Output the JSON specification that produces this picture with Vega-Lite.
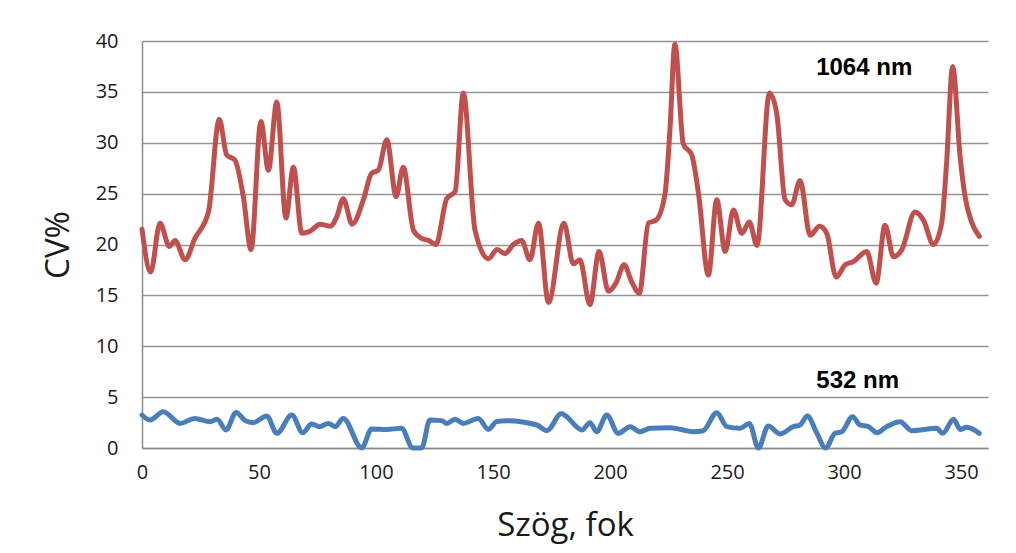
{
  "$schema": "https://vega.github.io/schema/vega-lite/v6.json",
  "autosize": {"type": "none"},
  "width": 846,
  "height": 407,
  "padding": {"left": 142, "top": 41, "right": 28, "bottom": 105},
  "background": "white",
  "config": {
    "view": {"stroke": null},
    "font": "Open Sans"
  },
  "datasets": {
    "cv": [
      {"szog": 0, "cv": 21.5, "hullam": "1064 nm"},
      {"szog": 3.7, "cv": 17.3, "hullam": "1064 nm"},
      {"szog": 7.7, "cv": 22.1, "hullam": "1064 nm"},
      {"szog": 11.7, "cv": 19.8, "hullam": "1064 nm"},
      {"szog": 14.1, "cv": 20.4, "hullam": "1064 nm"},
      {"szog": 18.4, "cv": 18.5, "hullam": "1064 nm"},
      {"szog": 22.6, "cv": 20.6, "hullam": "1064 nm"},
      {"szog": 28.4, "cv": 23.2, "hullam": "1064 nm"},
      {"szog": 33.0, "cv": 32.3, "hullam": "1064 nm"},
      {"szog": 36.2, "cv": 28.8, "hullam": "1064 nm"},
      {"szog": 39.7, "cv": 28.3, "hullam": "1064 nm"},
      {"szog": 43.3, "cv": 24.7, "hullam": "1064 nm"},
      {"szog": 46.6, "cv": 19.5, "hullam": "1064 nm"},
      {"szog": 50.8, "cv": 32.1, "hullam": "1064 nm"},
      {"szog": 54.0, "cv": 27.3, "hullam": "1064 nm"},
      {"szog": 57.6, "cv": 34.0, "hullam": "1064 nm"},
      {"szog": 61.5, "cv": 22.6, "hullam": "1064 nm"},
      {"szog": 64.7, "cv": 27.6, "hullam": "1064 nm"},
      {"szog": 68.3, "cv": 21.1, "hullam": "1064 nm"},
      {"szog": 71.8, "cv": 21.3, "hullam": "1064 nm"},
      {"szog": 76.1, "cv": 22.0, "hullam": "1064 nm"},
      {"szog": 80.4, "cv": 21.8, "hullam": "1064 nm"},
      {"szog": 83.2, "cv": 22.7, "hullam": "1064 nm"},
      {"szog": 86.0, "cv": 24.5, "hullam": "1064 nm"},
      {"szog": 89.8, "cv": 22.0, "hullam": "1064 nm"},
      {"szog": 94.6, "cv": 24.4, "hullam": "1064 nm"},
      {"szog": 98.1, "cv": 27.0, "hullam": "1064 nm"},
      {"szog": 101.0, "cv": 27.3, "hullam": "1064 nm"},
      {"szog": 104.6, "cv": 30.3, "hullam": "1064 nm"},
      {"szog": 108.6, "cv": 24.7, "hullam": "1064 nm"},
      {"szog": 111.6, "cv": 27.6, "hullam": "1064 nm"},
      {"szog": 116.0, "cv": 21.4, "hullam": "1064 nm"},
      {"szog": 119.5, "cv": 20.6, "hullam": "1064 nm"},
      {"szog": 122.4, "cv": 20.4, "hullam": "1064 nm"},
      {"szog": 125.6, "cv": 20.0, "hullam": "1064 nm"},
      {"szog": 130.2, "cv": 24.5, "hullam": "1064 nm"},
      {"szog": 133.8, "cv": 25.2, "hullam": "1064 nm"},
      {"szog": 137.3, "cv": 34.9, "hullam": "1064 nm"},
      {"szog": 142.3, "cv": 21.4, "hullam": "1064 nm"},
      {"szog": 148.0, "cv": 18.6, "hullam": "1064 nm"},
      {"szog": 151.8, "cv": 19.5, "hullam": "1064 nm"},
      {"szog": 155.1, "cv": 19.1, "hullam": "1064 nm"},
      {"szog": 158.7, "cv": 20.0, "hullam": "1064 nm"},
      {"szog": 162.2, "cv": 20.4, "hullam": "1064 nm"},
      {"szog": 165.8, "cv": 18.5, "hullam": "1064 nm"},
      {"szog": 169.4, "cv": 22.1, "hullam": "1064 nm"},
      {"szog": 173.7, "cv": 14.3, "hullam": "1064 nm"},
      {"szog": 180.3, "cv": 22.1, "hullam": "1064 nm"},
      {"szog": 184.3, "cv": 18.1, "hullam": "1064 nm"},
      {"szog": 187.1, "cv": 18.5, "hullam": "1064 nm"},
      {"szog": 191.4, "cv": 14.1, "hullam": "1064 nm"},
      {"szog": 195.3, "cv": 19.3, "hullam": "1064 nm"},
      {"szog": 199.3, "cv": 15.4, "hullam": "1064 nm"},
      {"szog": 202.5, "cv": 16.2, "hullam": "1064 nm"},
      {"szog": 206.0, "cv": 18.0, "hullam": "1064 nm"},
      {"szog": 209.3, "cv": 16.3, "hullam": "1064 nm"},
      {"szog": 212.5, "cv": 15.2, "hullam": "1064 nm"},
      {"szog": 216.4, "cv": 22.1, "hullam": "1064 nm"},
      {"szog": 219.7, "cv": 22.4, "hullam": "1064 nm"},
      {"szog": 223.5, "cv": 25.0, "hullam": "1064 nm"},
      {"szog": 225.6, "cv": 31.3, "hullam": "1064 nm"},
      {"szog": 227.7, "cv": 39.7, "hullam": "1064 nm"},
      {"szog": 231.3, "cv": 29.9, "hullam": "1064 nm"},
      {"szog": 234.9, "cv": 28.8, "hullam": "1064 nm"},
      {"szog": 237.8, "cv": 25.0, "hullam": "1064 nm"},
      {"szog": 242.0, "cv": 17.0, "hullam": "1064 nm"},
      {"szog": 245.6, "cv": 24.4, "hullam": "1064 nm"},
      {"szog": 249.2, "cv": 19.3, "hullam": "1064 nm"},
      {"szog": 252.7, "cv": 23.4, "hullam": "1064 nm"},
      {"szog": 256.3, "cv": 21.1, "hullam": "1064 nm"},
      {"szog": 259.5, "cv": 22.2, "hullam": "1064 nm"},
      {"szog": 262.8, "cv": 19.9, "hullam": "1064 nm"},
      {"szog": 268.1, "cv": 34.9, "hullam": "1064 nm"},
      {"szog": 271.2, "cv": 32.9, "hullam": "1064 nm"},
      {"szog": 274.8, "cv": 24.4, "hullam": "1064 nm"},
      {"szog": 277.6, "cv": 23.9, "hullam": "1064 nm"},
      {"szog": 281.2, "cv": 26.3, "hullam": "1064 nm"},
      {"szog": 285.5, "cv": 20.9, "hullam": "1064 nm"},
      {"szog": 289.5, "cv": 21.8, "hullam": "1064 nm"},
      {"szog": 292.6, "cv": 21.1, "hullam": "1064 nm"},
      {"szog": 296.6, "cv": 16.8, "hullam": "1064 nm"},
      {"szog": 300.5, "cv": 18.0, "hullam": "1064 nm"},
      {"szog": 303.9, "cv": 18.3, "hullam": "1064 nm"},
      {"szog": 309.7, "cv": 19.3, "hullam": "1064 nm"},
      {"szog": 313.7, "cv": 16.2, "hullam": "1064 nm"},
      {"szog": 317.5, "cv": 21.9, "hullam": "1064 nm"},
      {"szog": 321.1, "cv": 18.8, "hullam": "1064 nm"},
      {"szog": 324.7, "cv": 19.5, "hullam": "1064 nm"},
      {"szog": 330.3, "cv": 23.2, "hullam": "1064 nm"},
      {"szog": 333.9, "cv": 22.4, "hullam": "1064 nm"},
      {"szog": 338.2, "cv": 20.0, "hullam": "1064 nm"},
      {"szog": 341.7, "cv": 22.1, "hullam": "1064 nm"},
      {"szog": 343.8, "cv": 28.0, "hullam": "1064 nm"},
      {"szog": 346.4, "cv": 37.5, "hullam": "1064 nm"},
      {"szog": 349.6, "cv": 28.6, "hullam": "1064 nm"},
      {"szog": 351.7, "cv": 24.7, "hullam": "1064 nm"},
      {"szog": 354.5, "cv": 22.2, "hullam": "1064 nm"},
      {"szog": 357.8, "cv": 20.8, "hullam": "1064 nm"},

      {"szog": 0, "cv": 3.24, "hullam": "532 nm"},
      {"szog": 3.4, "cv": 2.75, "hullam": "532 nm"},
      {"szog": 9.1, "cv": 3.57, "hullam": "532 nm"},
      {"szog": 16.3, "cv": 2.42, "hullam": "532 nm"},
      {"szog": 22.6, "cv": 2.91, "hullam": "532 nm"},
      {"szog": 29.1, "cv": 2.59, "hullam": "532 nm"},
      {"szog": 32.1, "cv": 2.82, "hullam": "532 nm"},
      {"szog": 35.9, "cv": 1.77, "hullam": "532 nm"},
      {"szog": 40.2, "cv": 3.5, "hullam": "532 nm"},
      {"szog": 44.1, "cv": 2.69, "hullam": "532 nm"},
      {"szog": 47.5, "cv": 2.49, "hullam": "532 nm"},
      {"szog": 53.3, "cv": 3.15, "hullam": "532 nm"},
      {"szog": 57.6, "cv": 1.44, "hullam": "532 nm"},
      {"szog": 64.0, "cv": 3.24, "hullam": "532 nm"},
      {"szog": 68.7, "cv": 1.5, "hullam": "532 nm"},
      {"szog": 72.5, "cv": 2.36, "hullam": "532 nm"},
      {"szog": 75.8, "cv": 2.1, "hullam": "532 nm"},
      {"szog": 79.7, "cv": 2.42, "hullam": "532 nm"},
      {"szog": 82.5, "cv": 2.1, "hullam": "532 nm"},
      {"szog": 86.0, "cv": 2.91, "hullam": "532 nm"},
      {"szog": 93.9, "cv": 0, "hullam": "532 nm"},
      {"szog": 98.1, "cv": 1.87, "hullam": "532 nm"},
      {"szog": 104.6, "cv": 1.83, "hullam": "532 nm"},
      {"szog": 110.9, "cv": 1.93, "hullam": "532 nm"},
      {"szog": 115.7, "cv": 0, "hullam": "532 nm"},
      {"szog": 119.5, "cv": 0, "hullam": "532 nm"},
      {"szog": 123.0, "cv": 2.75, "hullam": "532 nm"},
      {"szog": 128.0, "cv": 2.69, "hullam": "532 nm"},
      {"szog": 130.2, "cv": 2.42, "hullam": "532 nm"},
      {"szog": 133.8, "cv": 2.82, "hullam": "532 nm"},
      {"szog": 137.3, "cv": 2.42, "hullam": "532 nm"},
      {"szog": 143.7, "cv": 2.91, "hullam": "532 nm"},
      {"szog": 148.0, "cv": 1.83, "hullam": "532 nm"},
      {"szog": 151.5, "cv": 2.59, "hullam": "532 nm"},
      {"szog": 155.9, "cv": 2.69, "hullam": "532 nm"},
      {"szog": 168.7, "cv": 2.26, "hullam": "532 nm"},
      {"szog": 173.0, "cv": 1.7, "hullam": "532 nm"},
      {"szog": 179.2, "cv": 3.38, "hullam": "532 nm"},
      {"szog": 181.0, "cv": 3.15, "hullam": "532 nm"},
      {"szog": 188.0, "cv": 1.77, "hullam": "532 nm"},
      {"szog": 191.4, "cv": 2.49, "hullam": "532 nm"},
      {"szog": 194.3, "cv": 1.6, "hullam": "532 nm"},
      {"szog": 198.6, "cv": 3.24, "hullam": "532 nm"},
      {"szog": 203.5, "cv": 1.44, "hullam": "532 nm"},
      {"szog": 208.6, "cv": 2.1, "hullam": "532 nm"},
      {"szog": 212.8, "cv": 1.6, "hullam": "532 nm"},
      {"szog": 217.1, "cv": 1.93, "hullam": "532 nm"},
      {"szog": 225.6, "cv": 2.0, "hullam": "532 nm"},
      {"szog": 235.6, "cv": 1.6, "hullam": "532 nm"},
      {"szog": 239.8, "cv": 1.7, "hullam": "532 nm"},
      {"szog": 245.6, "cv": 3.47, "hullam": "532 nm"},
      {"szog": 249.9, "cv": 2.1, "hullam": "532 nm"},
      {"szog": 255.5, "cv": 1.93, "hullam": "532 nm"},
      {"szog": 259.5, "cv": 2.42, "hullam": "532 nm"},
      {"szog": 263.4, "cv": 0, "hullam": "532 nm"},
      {"szog": 267.6, "cv": 2.16, "hullam": "532 nm"},
      {"szog": 272.7, "cv": 1.38, "hullam": "532 nm"},
      {"szog": 278.3, "cv": 2.1, "hullam": "532 nm"},
      {"szog": 281.2, "cv": 2.26, "hullam": "532 nm"},
      {"szog": 284.3, "cv": 3.15, "hullam": "532 nm"},
      {"szog": 288.4, "cv": 1.44, "hullam": "532 nm"},
      {"szog": 292.1, "cv": 0, "hullam": "532 nm"},
      {"szog": 296.1, "cv": 1.44, "hullam": "532 nm"},
      {"szog": 299.0, "cv": 1.6, "hullam": "532 nm"},
      {"szog": 303.6, "cv": 3.08, "hullam": "532 nm"},
      {"szog": 306.8, "cv": 2.26, "hullam": "532 nm"},
      {"szog": 310.4, "cv": 2.1, "hullam": "532 nm"},
      {"szog": 314.0, "cv": 1.5, "hullam": "532 nm"},
      {"szog": 318.2, "cv": 2.1, "hullam": "532 nm"},
      {"szog": 323.9, "cv": 2.59, "hullam": "532 nm"},
      {"szog": 328.9, "cv": 1.7, "hullam": "532 nm"},
      {"szog": 339.6, "cv": 1.93, "hullam": "532 nm"},
      {"szog": 342.1, "cv": 1.44, "hullam": "532 nm"},
      {"szog": 346.8, "cv": 2.82, "hullam": "532 nm"},
      {"szog": 349.6, "cv": 1.83, "hullam": "532 nm"},
      {"szog": 352.4, "cv": 2.03, "hullam": "532 nm"},
      {"szog": 357.8, "cv": 1.44, "hullam": "532 nm"}
    ],
    "cimkek": [
      {"szog": 308.6, "cv": 36.7, "felirat": "1064 nm"},
      {"szog": 305.8, "cv": 5.87, "felirat": "532 nm"}
    ]
  },
  "layer": [
    {
      "data": {"name": "cv"},
      "mark": {"type": "line", "interpolate": "monotone", "strokeWidth": 5, "strokeCap": "round", "strokeJoin": "round", "clip": false},
      "encoding": {
        "x": {
          "field": "szog", "type": "quantitative",
          "scale": {"domain": [0, 361.5], "nice": false, "zero": false},
          "axis": {
            "title": "Szög, fok",
            "values": [0, 50, 100, 150, 200, 250, 300, 350],
            "grid": false, "ticks": false, "labelFlush": false,
            "domainColor": "#8c8c8c", "domainWidth": 1.5,
            "labelFontSize": 20, "labelColor": "#1a1a1a", "labelPadding": 14,
            "labelFont": "Open Sans",
            "titleFont": "Open Sans", "titleFontSize": 33, "titleFontWeight": "normal",
            "titleColor": "#1a1a1a", "titlePadding": 27
          }
        },
        "y": {
          "field": "cv", "type": "quantitative",
          "scale": {"domain": [0, 40], "nice": false},
          "axis": {
            "title": "CV%",
            "values": [0, 5, 10, 15, 20, 25, 30, 35, 40],
            "grid": true, "gridColor": "#959595", "gridWidth": 1.5,
            "ticks": false, "labelFlush": false,
            "domainColor": "#8c8c8c", "domainWidth": 1.5,
            "labelFontSize": 20, "labelColor": "#1a1a1a", "labelPadding": 24,
            "labelFont": "Open Sans",
            "titleFont": "Open Sans", "titleFontSize": 33, "titleFontWeight": "normal",
            "titleColor": "#1a1a1a", "titlePadding": 20
          }
        },
        "color": {
          "field": "hullam", "type": "nominal",
          "scale": {"domain": ["1064 nm", "532 nm"], "range": ["#c0504d", "#4a7ebb"]},
          "legend": null
        },
        "detail": {"field": "hullam"}
      }
    },
    {
      "data": {"name": "cimkek"},
      "mark": {"type": "text", "font": "Liberation Sans", "fontWeight": "bold", "fontSize": 24, "color": "#000000", "align": "center", "baseline": "alphabetic"},
      "encoding": {
        "x": {"field": "szog", "type": "quantitative"},
        "y": {"field": "cv", "type": "quantitative"},
        "text": {"field": "felirat"}
      }
    }
  ]
}
